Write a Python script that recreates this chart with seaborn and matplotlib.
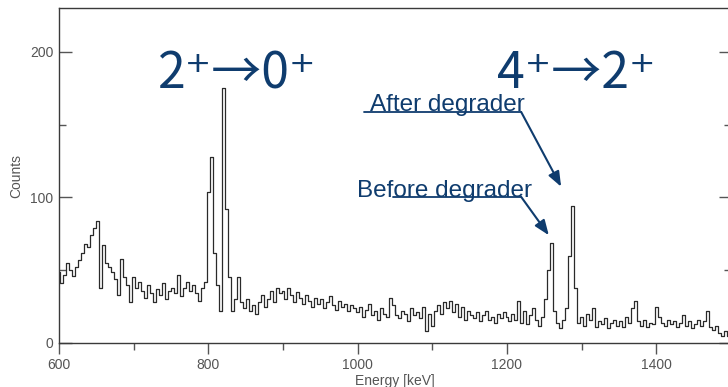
import numpy as np
import pandas as pd
import matplotlib
matplotlib.use("Agg")
import matplotlib.pyplot as plt
import seaborn as sns

# ---- data (4 keV bins, bin centres) ----
bin_start = 600
bin_width = 4
counts_600 = [49, 41, 47, 55, 50, 46, 52, 57, 62, 68, 66, 74, 79, 84, 38, 67, 55, 52, 49, 44, 33, 58, 45, 40, 28]
counts_700 = [45, 38, 42, 36, 31, 40, 34, 28, 37, 33, 41, 30, 36, 38, 34, 47, 32, 38, 42, 36, 40, 34, 29, 38, 42]
counts_800 = [104, 128, 62, 40, 22, 175, 92, 45, 22, 30, 45, 28, 24, 30, 22, 26, 20, 28, 33, 25, 30, 36, 28, 38, 34]
counts_900 = [36, 30, 38, 33, 28, 35, 31, 27, 33, 29, 25, 31, 27, 30, 24, 28, 32, 26, 23, 29, 25, 27, 22, 26, 24]
counts_1000 = [21, 25, 18, 23, 27, 19, 22, 16, 24, 20, 18, 31, 26, 19, 17, 22, 20, 15, 24, 19, 21, 17, 25, 8, 20]
counts_1100 = [12, 22, 26, 20, 28, 24, 29, 21, 27, 18, 25, 16, 22, 19, 17, 21, 15, 19, 22, 16, 18, 14, 20, 17, 21]
counts_1200 = [18, 15, 20, 16, 29, 14, 22, 13, 19, 24, 16, 12, 18, 30, 50, 69, 22, 14, 10, 16, 24, 60, 94, 38, 14]
counts_1300 = [18, 12, 20, 16, 24, 11, 15, 13, 17, 10, 14, 16, 12, 15, 11, 18, 14, 24, 29, 15, 12, 16, 11, 14, 13]
counts_1400 = [25, 18, 14, 12, 16, 13, 15, 11, 14, 19, 12, 15, 10, 13, 16, 12, 15, 22, 11, 9, 12, 7, 5, 8, 5]

counts = (counts_600 + counts_700 + counts_800 + counts_900 + counts_1000
          + counts_1100 + counts_1200 + counts_1300 + counts_1400)
energy = [bin_start + bin_width * i for i in range(len(counts))]
df = pd.DataFrame({"Energy": energy, "Counts": counts})

x_ticks = [600, 800, 1000, 1200, 1400]
y_ticks = [0, 100, 200]
transition_labels = ["2⁺→0⁺", "4⁺→2⁺"]
annot_labels = ["After degrader", "Before degrader"]

# ---- style ----
sns.set_style("ticks")
plt.rcParams["font.family"] = ["Liberation Sans", "DejaVu Sans"]

navy = "#0f3c6e"
grey = "#555555"
big_family = ["Noto Sans CJK JP", "DejaVu Sans"]

fig = plt.figure(figsize=(7.28, 3.87), dpi=100)
ax = fig.add_axes([59 / 728, 1 - 343 / 387, 672 / 728, 335 / 387])

sns.lineplot(data=df, x="Energy", y="Counts", ax=ax, color="#2a2a2a",
             linewidth=0.9, drawstyle="steps-mid", estimator=None)

ax.set_xlim(600, 1500)
ax.set_ylim(0, 230)
ax.set_xticks(x_ticks)
ax.set_xticks([700, 900, 1100, 1300], minor=True)
ax.set_yticks(y_ticks)
ax.set_yticks([50, 150], minor=True)

for s in ["left", "bottom", "top", "right"]:
    ax.spines[s].set_visible(True)
    ax.spines[s].set_color("#3a3a3a")
    ax.spines[s].set_linewidth(1.0)

ax.tick_params(axis="x", which="major", direction="out", length=8, width=1,
               color=grey, labelsize=10, labelcolor=grey, pad=3)
ax.tick_params(axis="x", which="minor", direction="out", length=5, width=1, color=grey)
ax.tick_params(axis="y", which="major", direction="in", length=9, width=1,
               color=grey, labelsize=10, labelcolor=grey, right=True, left=True, pad=4)
ax.tick_params(axis="y", which="minor", direction="in", length=5, width=1, color=grey,
               right=True, left=True)

ax.set_xlabel("Energy [keV]", fontsize=10, color=grey, labelpad=1)
ax.set_ylabel("Counts", fontsize=10, color=grey, labelpad=5)

# ---- annotations ----
ax.text(0.147, 0.761, transition_labels[0], transform=ax.transAxes, fontsize=36,
        color=navy, ha="left", va="baseline", family=big_family)
ax.text(0.652, 0.761, transition_labels[1], transform=ax.transAxes, fontsize=36,
        color=navy, ha="left", va="baseline", family=big_family)

ax.text(0.463, 0.6925, annot_labels[0], transform=ax.transAxes, fontsize=17.5,
        color=navy, ha="left", va="baseline")
ax.text(0.4435, 0.436, annot_labels[1], transform=ax.transAxes, fontsize=17.5,
        color=navy, ha="left", va="baseline")

# underline + arrow for "After degrader"
ax.plot([1009, 1219], [158.6, 158.6], color=navy, lw=1.3)
ax.annotate("", xy=(1272.5, 107.3), xytext=(1219, 158.6),
            arrowprops=dict(arrowstyle="-|>,head_length=0.9,head_width=0.35",
                            color=navy, lw=1.5, shrinkA=0, shrinkB=0))
# underline + arrow for "Before degrader"
ax.plot([1047, 1219], [100.3, 100.3], color=navy, lw=1.3)
ax.annotate("", xy=(1256, 74), xytext=(1219, 100.3),
            arrowprops=dict(arrowstyle="-|>,head_length=0.9,head_width=0.35",
                            color=navy, lw=1.5, shrinkA=0, shrinkB=0))

fig.savefig("out.png", dpi=100, facecolor="white")
